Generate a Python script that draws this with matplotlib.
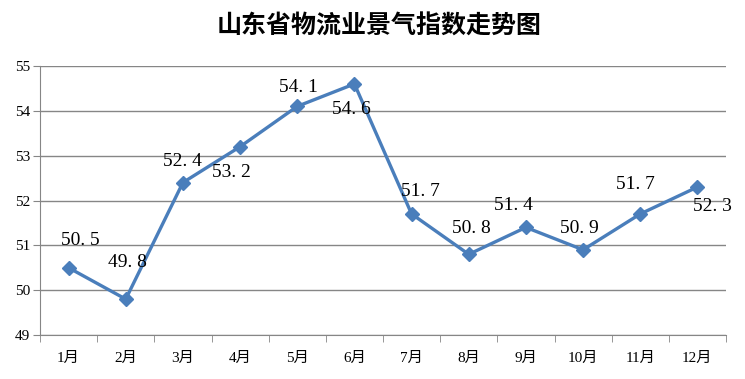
import matplotlib
matplotlib.use('Agg')
import matplotlib.pyplot as plt
import numpy as np

months = ['1月', '2月', '3月', '4月', '5月', '6月', '7月', '8月', '9月', '10月', '11月', '12月']
values = [50.5, 49.8, 52.4, 53.2, 54.1, 54.6, 51.7, 50.8, 51.4, 50.9, 51.7, 52.3]
# label offsets in pixels (dx, dy) relative to each point
label_offsets = [(12, 27), (2, 37), (0, 21), (-9, -26), (1, 19), (-3, -26),
                 (9, 22), (3, 26), (-12, 22), (-4, 21), (-5, 29), (15, -19)]

serif_cjk = ['Liberation Serif', 'Noto Sans CJK SC']

fig = plt.figure(figsize=(7.45, 3.79), dpi=100)
ax = fig.add_axes([40 / 745, 44 / 379, 686 / 745, 269 / 379])

x = np.arange(len(months))
ax.plot(x, values, color='#4a7ebb', lw=2.4, marker='D', markersize=7,
        markerfacecolor='#4a7ebb', markeredgecolor='#4a7ebb', zorder=3)

for xi, v, (dx, dy) in zip(x, values, label_offsets):
    ax.annotate(f'{v:.1f}'.replace('.', '. '), (xi, v), xytext=(dx, dy), textcoords='offset pixels',
                ha='center', va='center', fontsize=14, family='Liberation Serif',
                color='black', zorder=4)

ax.set_xlim(-0.5, len(months) - 0.5)
ax.set_ylim(49, 55)
ax.set_yticks(range(49, 56))
ax.set_yticklabels([str(t) for t in range(49, 56)], family='Liberation Serif', fontsize=11)
ax.set_xticks(x)
ax.set_xticklabels(months, family=serif_cjk, fontsize=11)
ax.set_xticks(np.arange(-0.5, len(months)), minor=True)
ax.tick_params(axis='x', which='major', length=0, pad=12)
ax.tick_params(axis='x', which='minor', length=5, color='#868686', direction='out')
ax.tick_params(axis='y', length=5, color='#868686', direction='out', pad=2)

ax.grid(axis='y', color='#868686', lw=1)
ax.set_axisbelow(True)
for side in ['top', 'right']:
    ax.spines[side].set_visible(False)
for side in ['left', 'bottom']:
    ax.spines[side].set_color('#868686')

fig.text(379 / 745, 1 - 27 / 379, '山东省物流业景气指数走势图', ha='center', va='center',
         fontsize=18, fontweight='bold', family=['Noto Sans CJK SC', 'DejaVu Sans'])

fig.savefig('out.png', dpi=100)
